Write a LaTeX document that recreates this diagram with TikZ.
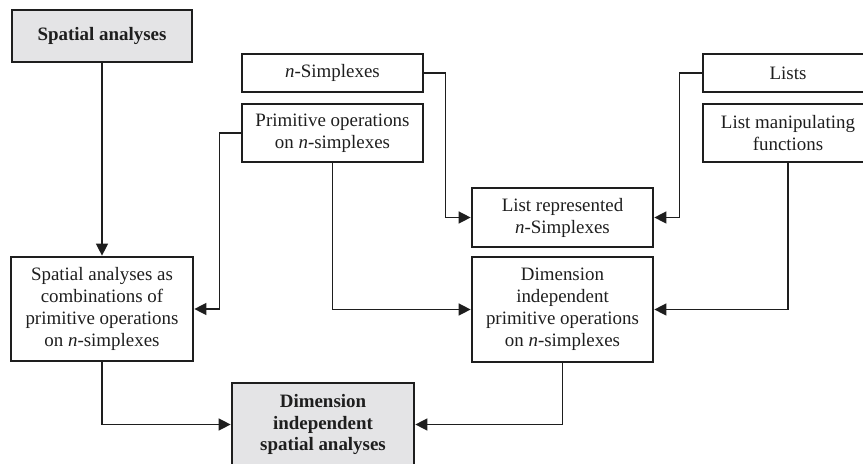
\documentclass[tikz,border=0pt]{standalone}
\usepackage{fontspec}
\setmainfont{Liberation Serif}
\usetikzlibrary{arrows.meta}
\definecolor{ink}{HTML}{1E1E1E}
\definecolor{boxgray}{HTML}{E4E4E6}
\begin{document}
\begin{tikzpicture}[x=1bp,y=-1bp,
  box/.style={draw=ink,line width=2.7bp,inner sep=0pt,align=center,
    font=\fontsize{19}{22}\selectfont,text=ink},
  graybox/.style={box,fill=boxgray,font=\fontsize{19}{22}\selectfont\bfseries},
  conn/.style={draw=ink,line width=1.4bp,-{Triangle[length=12bp,width=12bp]}}]
\useasboundingbox (0,0) rectangle (863,464);
\node[graybox,minimum width=180bp,minimum height=52bp] (sa) at (102,36) {Spatial analyses};
\node[box,minimum width=181bp,minimum height=38bp] (ns) at (332.5,73) {\textit{n}-Simplexes};
\node[box,minimum width=181bp,minimum height=58bp] (po) at (332.5,133) {Primitive operations\\on \textit{n}-simplexes};
\node[box,minimum width=170bp,minimum height=38bp] (li) at (788,73) {Lists};
\node[box,minimum width=170bp,minimum height=58bp] (lm) at (788,133) {List manipulating\\functions};
\node[box,minimum width=181bp,minimum height=59bp] (lr) at (562.5,217.5) {List represented\\\textit{n}-Simplexes};
\node[box,minimum width=181bp,minimum height=105bp] (dp) at (562.5,309.5) {Dimension\\independent\\primitive operations\\on \textit{n}-simplexes};
\node[box,minimum width=182bp,minimum height=104bp] (co) at (102,309) {Spatial analyses as\\combinations of\\primitive operations\\on \textit{n}-simplexes};
\node[graybox,minimum width=182bp,minimum height=83bp] (ds) at (323,424.5) {Dimension\\independent\\spatial analyses};
\draw[conn] (sa.south) -- (co.north);
\draw[conn] (ns.east) -| ([xshift=-25bp]lr.west) -- (lr.west);
\draw[conn] (li.west) -| ([xshift=25bp]lr.east) -- (lr.east);
\draw[conn] (po.west) -| ([xshift=25bp]co.east) -- (co.east);
\draw[conn] (po.south) |- (dp.west);
\draw[conn] (lm.south) |- (dp.east);
\draw[conn] (co.south) |- (ds.west);
\draw[conn] (dp.south) |- (ds.east);
\end{tikzpicture}
\end{document}
